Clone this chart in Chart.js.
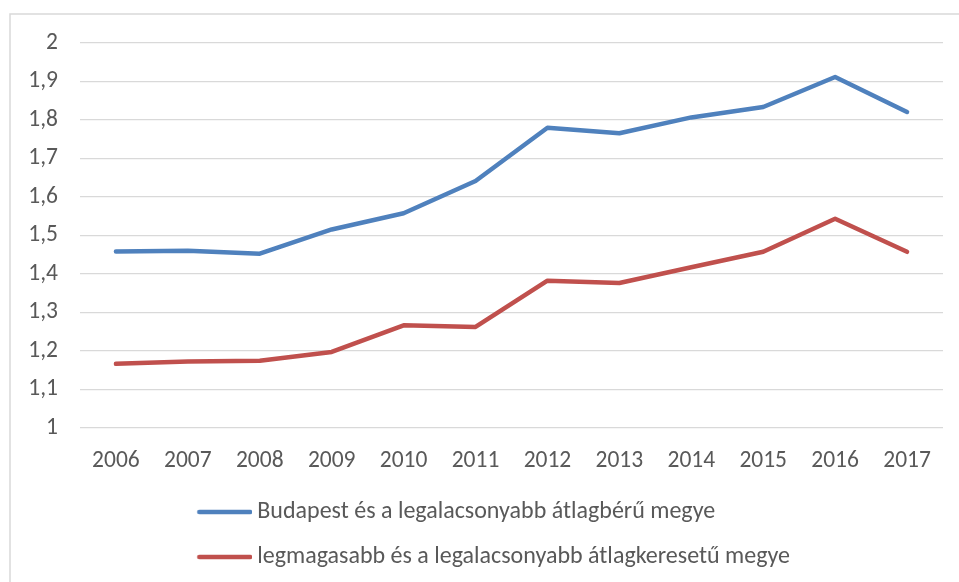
<!DOCTYPE html>
<html><head><meta charset="utf-8">
<script src="https://cdn.jsdelivr.net/npm/chart.js@4"></script>
<style>html,body{margin:0;padding:0;background:#fff;overflow:hidden}#wrap{position:relative;width:959px;height:582px}</style>
</head><body><div id="wrap"><canvas id="c"></canvas></div>
<script>
const years = ['2006','2007','2008','2009','2010','2011','2012','2013','2014','2015','2016','2017'];
const budapestSeries = [1.458,1.460,1.452,1.515,1.557,1.641,1.779,1.765,1.806,1.833,1.911,1.820];
const megyeSeries = [1.166,1.172,1.174,1.197,1.266,1.262,1.382,1.376,1.417,1.457,1.543,1.457];
const seriesNames = ['Budapest és a legalacsonyabb átlagbérű megye','legmagasabb és a legalacsonyabb átlagkeresetű megye'];
const seriesColors = ['#4f81bd','#c0504d'];
const yTickLabels = ['1','1,1','1,2','1,3','1,4','1,5','1,6','1,7','1,8','1,9','2'];

const FONT = "Carlito, Calibri, Lato, sans-serif";
const TXT = '#595959';

function legendLine(color){
  const c = document.createElement('canvas');
  c.width = 62; c.height = 8;
  const g = c.getContext('2d');
  g.strokeStyle = color; g.lineWidth = 4.5; g.lineCap = 'round';
  g.beginPath(); g.moveTo(9, 4); g.lineTo(60, 4); g.stroke();
  return c;
}

const framePlugin = {
  id: 'frame',
  beforeDraw(chart){
    const g = chart.ctx;
    g.save();
    g.strokeStyle = '#d9d9d9'; g.lineWidth = 1.5;
    g.beginPath(); g.moveTo(10, 582); g.lineTo(10, 14); g.lineTo(959, 14); g.stroke();
    g.restore();
  }
};
const legendShift = {
  id: 'legendShift',
  afterLayout(chart){
    const l = chart.legend; const dx = 170, dy = -15;
    l.left += dx; l.right += dx; l.top += dy; l.bottom += dy;
  }
};

new Chart(document.getElementById('c'), {
  type: 'line',
  data: {
    labels: years,
    datasets: [
      {label: seriesNames[0], data: budapestSeries, borderColor: seriesColors[0], backgroundColor: seriesColors[0],
       borderWidth: 4.5, pointRadius: 0, pointHoverRadius: 0, tension: 0, borderCapStyle: 'round', borderJoinStyle: 'round',
       pointStyle: legendLine(seriesColors[0])},
      {label: seriesNames[1], data: megyeSeries, borderColor: seriesColors[1], backgroundColor: seriesColors[1],
       borderWidth: 4.5, pointRadius: 0, pointHoverRadius: 0, tension: 0, borderCapStyle: 'round', borderJoinStyle: 'round',
       pointStyle: legendLine(seriesColors[1])}
    ]
  },
  options: {
    responsive: true, maintainAspectRatio: false, animation: false,
    layout: {padding: {top: 42.7, left: 6.3, right: 16, bottom: -12}},
    plugins: {
      tooltip: {enabled: false},
      legend: {
        position: 'bottom', align: 'start',
        labels: {
          usePointStyle: true, pointStyleWidth: 48, boxHeight: 8,
          padding: 21, color: TXT, font: {family: FONT, size: 24}
        }
      }
    },
    scales: {
      x: {
        offset: true,
        grid: {display: false, drawTicks: false},
        border: {display: false},
        ticks: {color: TXT, font: {family: FONT, size: 23.5}, padding: 19, maxRotation: 0, autoSkip: false}
      },
      y: {
        min: 1, max: 2,
        grid: {color: '#d9d9d9', lineWidth: 1.3, drawTicks: false},
        border: {display: false},
        ticks: {stepSize: 0.1, color: TXT, font: {family: FONT, size: 23.5}, padding: 22,
          callback: (v, i) => yTickLabels[i]}
      }
    }
  },
  plugins: [framePlugin, legendShift]
});
</script></body></html>
